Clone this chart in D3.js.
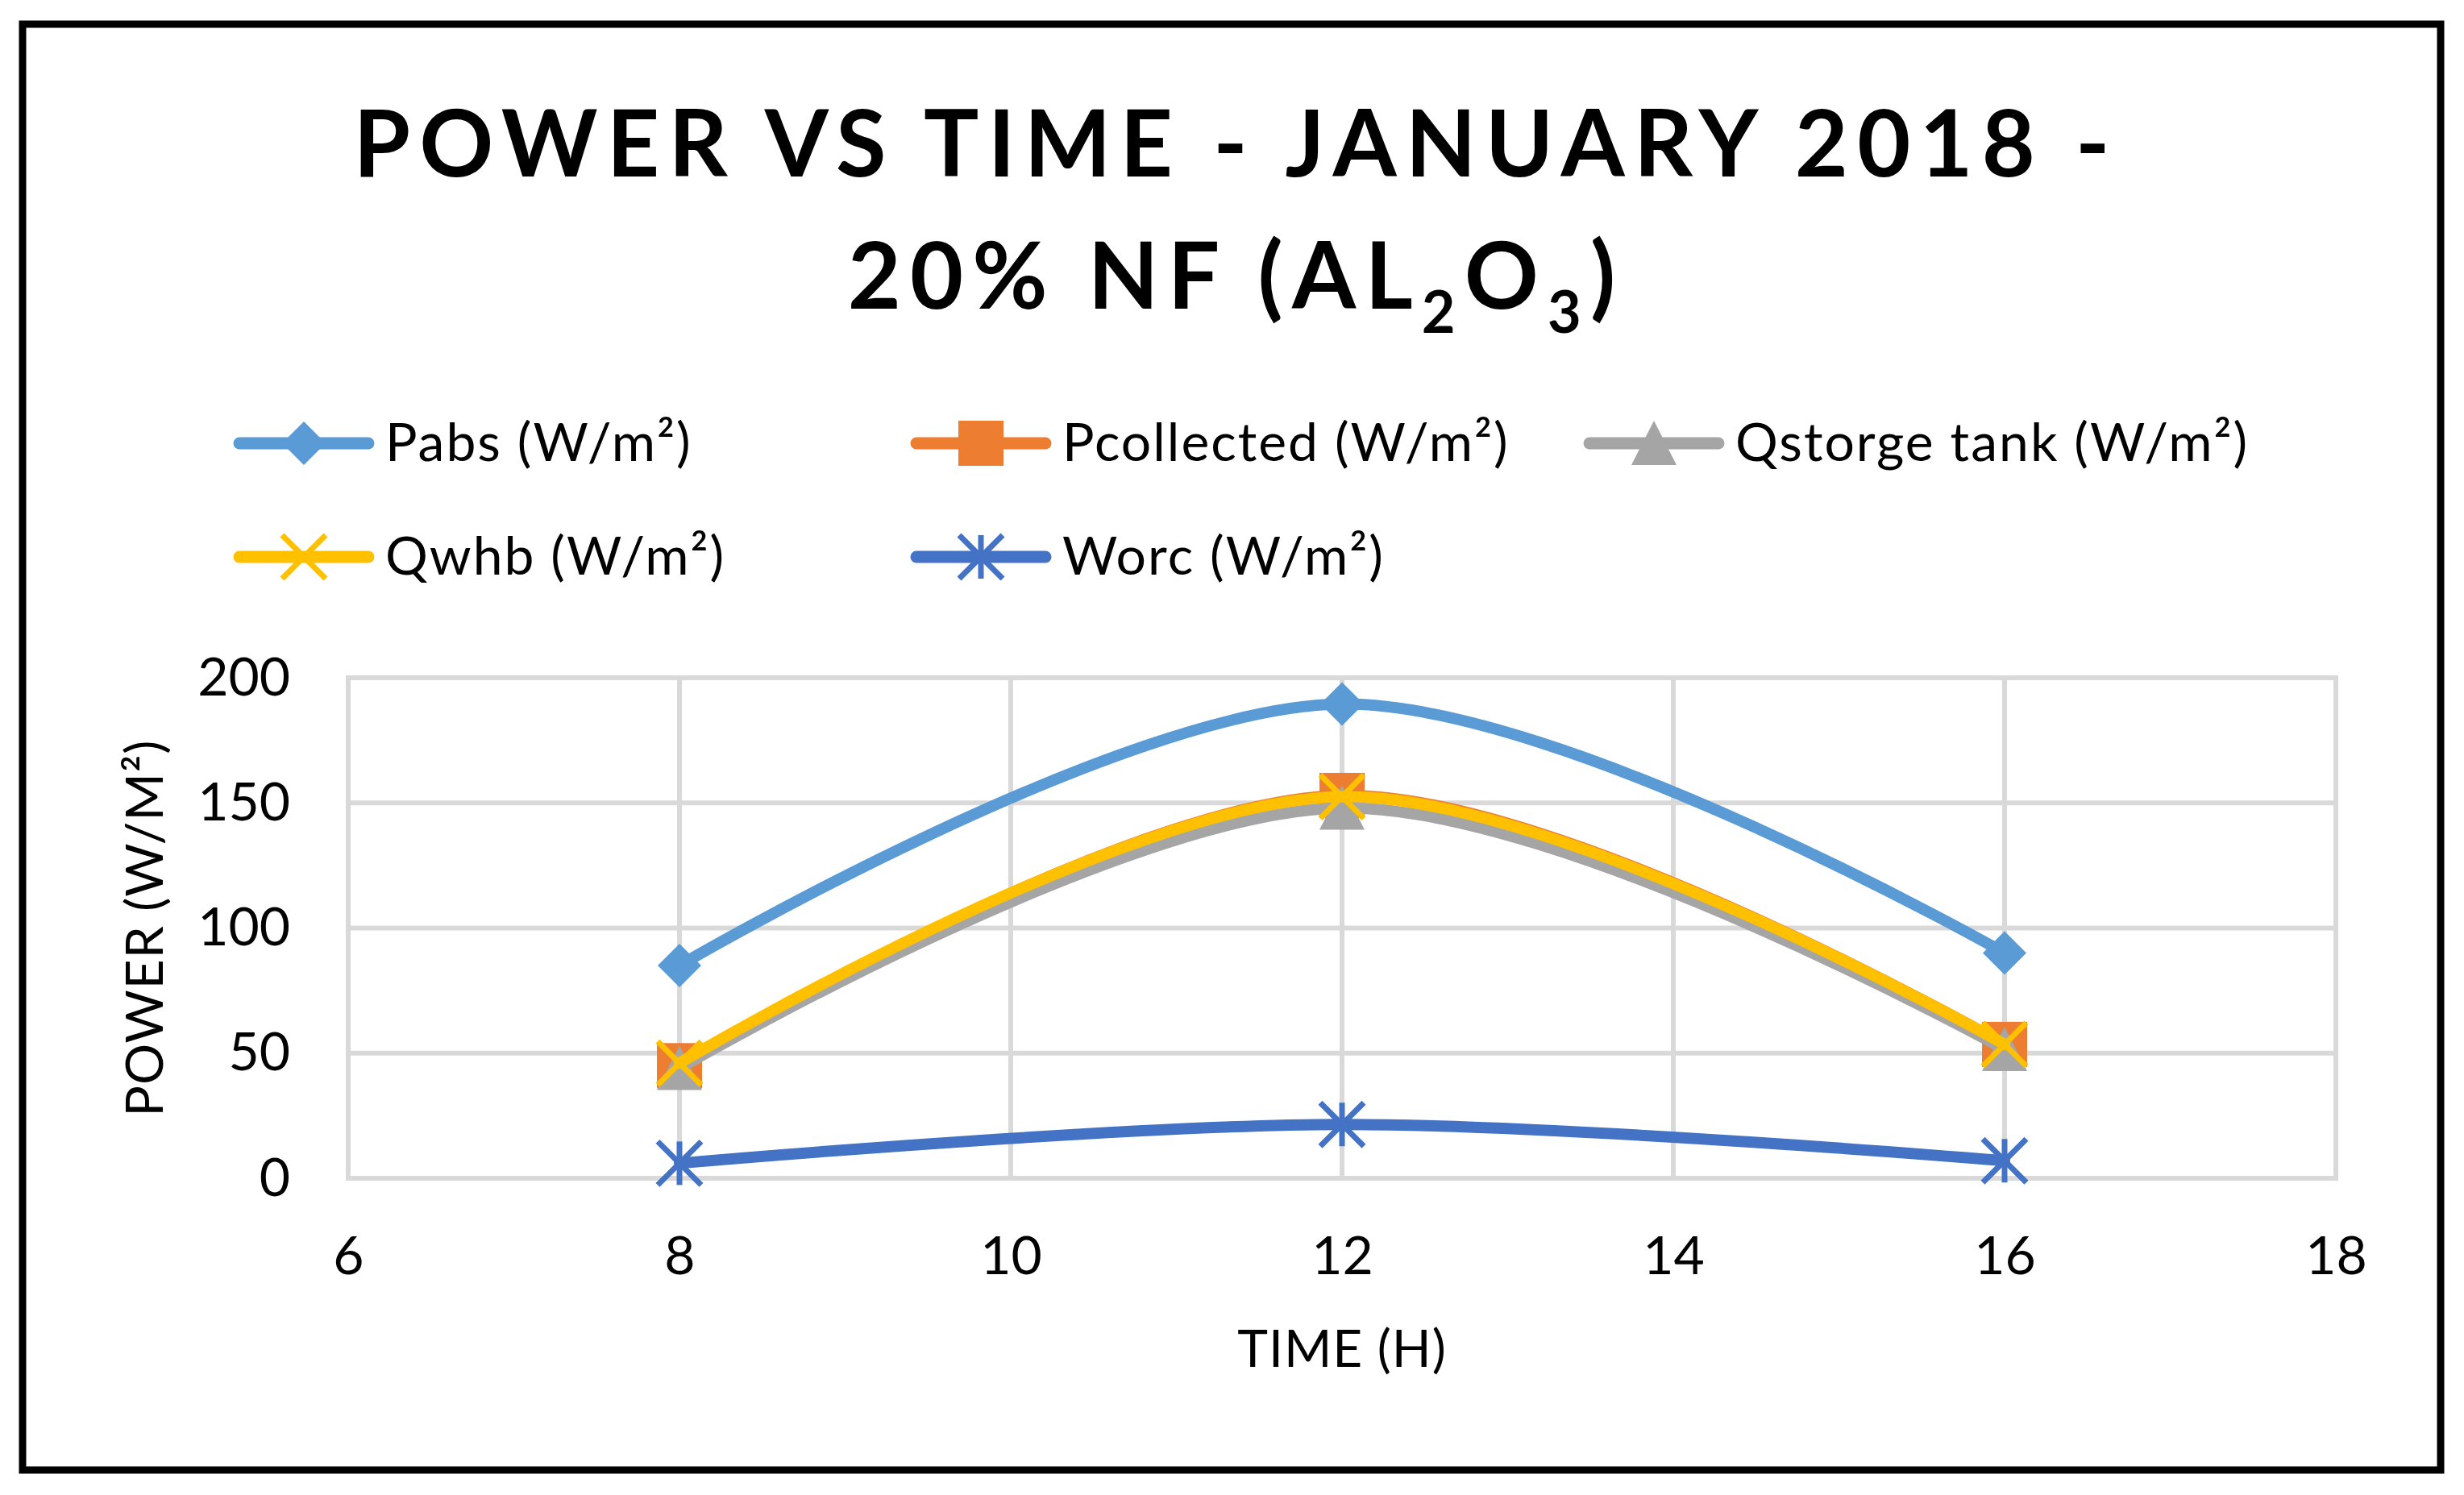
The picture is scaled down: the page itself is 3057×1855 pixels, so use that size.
<!doctype html>
<html>
<head>
<meta charset="utf-8"/>
<title>Power vs Time - January 2018 - 20% NF (Al2O3)</title>
<script src="https://d3js.org/d3.v7.min.js"></script>
<style>
body { margin: 0; background: #fff; }
text { font-family: Lato, "Noto Sans", sans-serif; fill: #000; }
</style>
</head>
<body>
<svg id="chart"></svg>
<script>
// data
const hours = [8, 12, 16];
const pabs = [85, 189.5, 90];
const pcollected = [45, 153, 53.5];
const qstorge = [44, 148, 51.5];
const qwhb = [46, 152.5, 53.5];
const worc = [6, 21.5, 7];

const seriesNames = ['Pabs (W/m²)', 'Pcollected (W/m²)', 'Qstorge tank (W/m²)', 'Qwhb (W/m²)', 'Worc (W/m²)'];
const seriesValues = [pabs, pcollected, qstorge, qwhb, worc];
const seriesColors = ['#5B9BD5', '#ED7D31', '#A5A5A5', '#FFC000', '#4472C4'];
const seriesMarkers = ['diamond', 'square', 'triangle', 'x', 'star'];

const xTicks = [6, 8, 10, 12, 14, 16, 18];
const yTicks = [0, 50, 100, 150, 200];

// layout
const W = 3057, H = 1855;
const plot = {left: 432, right: 2898, top: 841, bottom: 1462};

const svg = d3.select('#chart')
    .attr('width', W)
    .attr('height', H);

svg.append('rect')
    .attr('x', 28).attr('y', 30)
    .attr('width', 3000).attr('height', 1794)
    .attr('fill', '#fff')
    .attr('stroke', '#000')
    .attr('stroke-width', 9);

const x = d3.scaleLinear().domain([6, 18]).range([plot.left, plot.right]);
const y = d3.scaleLinear().domain([0, 200]).range([plot.bottom, plot.top]);

// grid
const grid = svg.append('g');
grid.selectAll('line.v').data(xTicks).join('line')
    .attr('x1', d => x(d)).attr('x2', d => x(d))
    .attr('y1', plot.top).attr('y2', plot.bottom)
    .attr('stroke', '#d9d9d9').attr('stroke-width', 6);
grid.selectAll('line.h').data(yTicks).join('line')
    .attr('x1', plot.left - 3).attr('x2', plot.right + 3)
    .attr('y1', d => y(d)).attr('y2', d => y(d))
    .attr('stroke', '#d9d9d9').attr('stroke-width', 6);

// axes (labels only)
const xAxis = svg.append('g')
    .attr('transform', `translate(0,${plot.bottom})`)
    .call(d3.axisBottom(x).tickValues(xTicks).tickSize(0).tickPadding(72));
const yAxis = svg.append('g')
    .attr('transform', `translate(${plot.left},0)`)
    .call(d3.axisLeft(y).tickValues(yTicks).tickSize(0).tickPadding(72));
[xAxis, yAxis].forEach(a => {
    a.select('.domain').remove();
    a.selectAll('text')
        .style('font-family', 'Lato, "Noto Sans", sans-serif')
        .style('font-size', '66px')
        .attr('fill', '#000');
});

svg.append('text')
    .attr('x', (plot.left + plot.right) / 2)
    .attr('y', 1696)
    .attr('text-anchor', 'middle')
    .style('font-size', '64px')
    .style('letter-spacing', '1px')
    .text('TIME (H)');

svg.append('text')
    .attr('transform', `translate(202,${(plot.top + plot.bottom) / 2}) rotate(-90)`)
    .attr('text-anchor', 'middle')
    .style('font-size', '64px')
    .style('letter-spacing', '1px')
    .text('POWER (W/M²)');

// title
const title1 = svg.append('text')
    .attr('x', 1528).attr('y', 219)
    .attr('text-anchor', 'middle')
    .style('font-size', '114px')
    .style('font-weight', 'bold')
    .text('POWER VS TIME - JANUARY 2018 -');
const title2 = svg.append('text')
    .attr('x', 1528).attr('y', 383)
    .attr('text-anchor', 'middle')
    .style('font-size', '114px')
    .style('font-weight', 'bold');
title2.append('tspan').text('20% NF (AL');
title2.append('tspan').text('2').style('font-size', '72px').attr('dy', 30);
title2.append('tspan').text('O').attr('dy', -30);
title2.append('tspan').text('3').style('font-size', '72px').attr('dy', 30);
title2.append('tspan').text(')').attr('dy', -30);

// spread the title letters like the reference
const natural = title1.node().getComputedTextLength();
const n1 = 'POWER VS TIME - JANUARY 2018 -'.length;
const spacing = (2179 - natural) / (n1 - 1);
title1.style('letter-spacing', spacing + 'px').attr('x', 1528 + spacing / 2);
title2.style('letter-spacing', spacing + 'px').attr('x', 1528 + spacing / 2);

// markers
function drawMarker(g, kind, cx, cy, color) {
    const s = 27;
    if (kind == 'diamond') {
        g.append('path')
            .attr('d', `M${cx},${cy - s}L${cx + s},${cy}L${cx},${cy + s}L${cx - s},${cy}Z`)
            .attr('fill', color);
    } else if (kind == 'square') {
        g.append('rect')
            .attr('x', cx - 28).attr('y', cy - 28)
            .attr('width', 56).attr('height', 56)
            .attr('fill', color);
    } else if (kind == 'triangle') {
        g.append('path')
            .attr('d', `M${cx},${cy - 28}L${cx + 28},${cy + 27}L${cx - 28},${cy + 27}Z`)
            .attr('fill', color);
    } else {
        const p = g.append('g').attr('stroke', color).attr('stroke-width', 7);
        p.append('line').attr('x1', cx - s).attr('y1', cy - s).attr('x2', cx + s).attr('y2', cy + s);
        p.append('line').attr('x1', cx - s).attr('y1', cy + s).attr('x2', cx + s).attr('y2', cy - s);
        if (kind == 'star') {
            p.append('line').attr('x1', cx).attr('y1', cy - s).attr('x2', cx).attr('y2', cy + s);
        }
    }
}

// series
const line = d3.line()
    .x(d => x(d[0]))
    .y(d => y(d[1]))
    .curve(d3.curveCardinal.tension(0));

seriesValues.forEach((vals, i) => {
    const pts = hours.map((h, j) => [h, vals[j]]);
    const g = svg.append('g');
    g.append('path')
        .attr('d', line(pts))
        .attr('fill', 'none')
        .attr('stroke', seriesColors[i])
        .attr('stroke-width', 14)
        .attr('stroke-linecap', 'round');
    pts.forEach(p => drawMarker(g, seriesMarkers[i], x(p[0]), y(p[1]), seriesColors[i]));
});

// legend
const legendX = [290, 1130, 1965];
const legendY = [550, 691];
seriesNames.forEach((name, i) => {
    const lx = legendX[i % 3], ly = legendY[Math.floor(i / 3)];
    const g = svg.append('g');
    g.append('line')
        .attr('x1', lx + 7).attr('x2', lx + 167)
        .attr('y1', ly).attr('y2', ly)
        .attr('stroke', seriesColors[i])
        .attr('stroke-width', 15)
        .attr('stroke-linecap', 'round');
    drawMarker(g, seriesMarkers[i], lx + 87, ly, seriesColors[i]);
    g.append('text')
        .attr('x', lx + 188)
        .attr('y', ly + 22)
        .style('font-size', '66px')
        .style('letter-spacing', '2px')
        .text(name);
});
</script>
</body>
</html>
